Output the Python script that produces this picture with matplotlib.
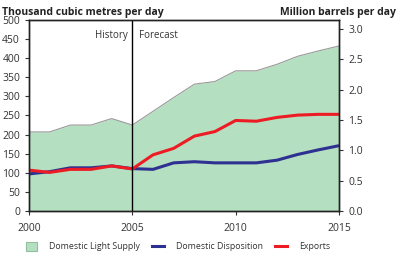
import matplotlib.pyplot as plt
from matplotlib.patches import Patch
from matplotlib.lines import Line2D

years = list(range(2000, 2016))
light_supply = [207, 207, 225, 225, 242, 225, 261, 297, 332, 339, 367, 367, 384, 405, 419, 432]
disposition = [97, 103, 113, 113, 118, 111, 109, 126, 129, 126, 126, 126, 133, 148, 160, 171]
exports = [107, 101, 109, 109, 118, 110, 147, 164, 196, 208, 237, 235, 245, 251, 253, 253]

green = '#b5dfc1'
blue = '#2e3192'
red = '#ed1c24'
grey = '#333333'

plt.rcParams['font.family'] = ['Open Sans', 'DejaVu Sans']

fig = plt.figure(figsize=(4, 2.61), dpi=100)
ax = fig.add_axes([0.0725, 0.1916, 0.775, 0.7318])

ax.fill_between(years, 0, light_supply, color=green, lw=0)
ax.plot(years, light_supply, color='#999999', lw=0.8)
ax.plot(years, disposition, color=blue, lw=2.2, solid_capstyle='butt')
ax.plot(years, exports, color=red, lw=2.2, solid_capstyle='butt')
ax.axvline(2005, color='black', lw=1)

ax.set_xlim(2000, 2015)
ax.set_ylim(0, 500)
ax.set_xticks([2000, 2005, 2010, 2015])
ax.set_yticks(range(0, 501, 50))
ax.tick_params(axis='both', labelsize=7.5, colors=grey, length=3, width=0.8)
ax.tick_params(axis='x', pad=6)
for s in ax.spines.values():
    s.set_color('#222222')
    s.set_linewidth(1)

ax.text(2004.8, 460, 'History', ha='right', va='center', fontsize=7, color=grey)
ax.text(2005.3, 460, 'Forecast', ha='left', va='center', fontsize=7, color=grey)

ax2 = ax.twinx()
ax2.set_ylim(0, 500 * 6.29 / 1000)
ax2.set_yticks([0, 0.5, 1.0, 1.5, 2.0, 2.5, 3.0])
ax2.set_yticklabels(['0.0', '0.5', '1.0', '1.5', '2.0', '2.5', '3.0'])
ax2.tick_params(axis='y', labelsize=7.5, colors=grey, length=3, width=0.8)
for s in ax2.spines.values():
    s.set_color('#222222')
    s.set_linewidth(1)

fig.text(0.005, 0.975, 'Thousand cubic metres per day', fontsize=7.5, fontweight='bold',
         color='#222222', va='top', ha='left')
fig.text(0.99, 0.975, 'Million barrels per day', fontsize=7.5, fontweight='bold',
         color='#222222', va='top', ha='right')

handles = [
    Patch(facecolor=green, edgecolor='#8fbf9c', lw=0.8),
    Line2D([0], [0], color=blue, lw=2.2),
    Line2D([0], [0], color=red, lw=2.2),
]
labels = ['Domestic Light Supply', 'Domestic Disposition', 'Exports']
fig.legend(handles, labels, loc='center left', bbox_to_anchor=(0.055, 0.055), ncol=3,
           frameon=False, fontsize=6.3, handlelength=1.3, handleheight=1.3,
           handletextpad=1.4, columnspacing=1.4, labelcolor=grey, borderaxespad=0)

fig.savefig('out.png', dpi=100)
